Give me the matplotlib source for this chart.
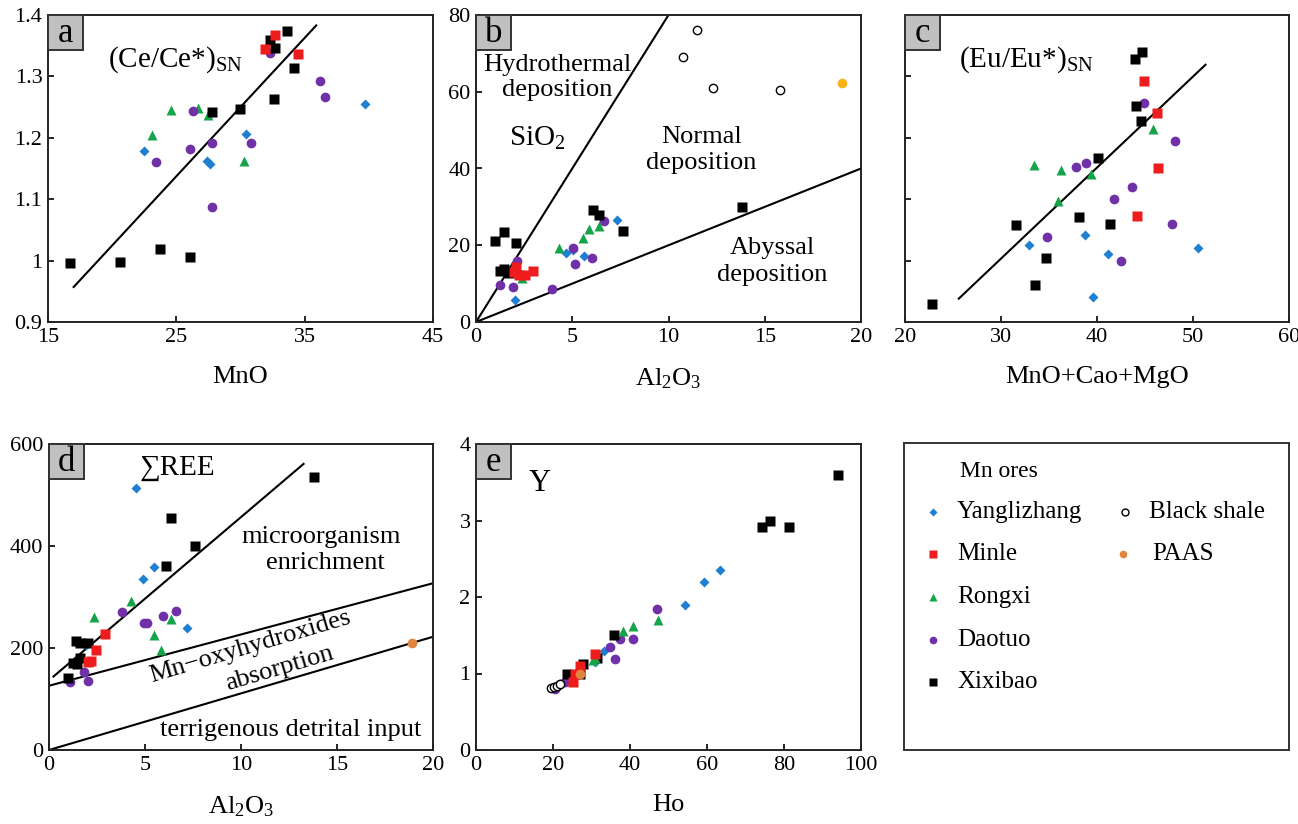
import matplotlib
matplotlib.use("Agg")
import matplotlib.pyplot as plt
from matplotlib.patches import Rectangle

plt.rcParams['font.family'] = ['Liberation Serif', 'DejaVu Serif']
plt.rcParams['mathtext.fontset'] = 'custom'
plt.rcParams['mathtext.rm'] = 'Liberation Serif'
plt.rcParams['mathtext.it'] = 'Liberation Serif'

# ---------------- data ----------------
# panel a: MnO vs (Ce/Ce*)SN
a_xix_x = [16.7, 20.6, 23.75, 26.1, 27.75, 30.0, 32.6, 32.3, 32.7, 33.6, 34.2]
a_xix_y = [0.996, 0.998, 1.019, 1.006, 1.242, 1.247, 1.264, 1.359, 1.346, 1.374, 1.314]
a_min_x = [31.9, 32.7, 34.5]
a_min_y = [1.344, 1.367, 1.336]
a_dao_x = [23.4, 26.3, 26.1, 27.8, 27.8, 30.8, 32.3, 36.2, 36.6]
a_dao_y = [1.160, 1.243, 1.182, 1.191, 1.087, 1.191, 1.338, 1.292, 1.266]
a_ron_x = [23.1, 24.6, 26.7, 27.5, 30.3]
a_ron_y = [1.204, 1.245, 1.249, 1.237, 1.162]
a_yan_x = [22.5, 27.4, 27.6, 30.4, 39.7]
a_yan_y = [1.179, 1.162, 1.157, 1.207, 1.255]
a_line_x = [17.0, 35.9]
a_line_y = [0.957, 1.383]

# panel b: Al2O3 vs SiO2
b_sha_x = [10.75, 11.5, 12.3, 15.8]
b_sha_y = [69.0, 76.2, 61.0, 60.5]
b_paas_x = [19.0]
b_paas_y = [62.2]
b_xix_x = [1.0, 1.47, 2.1, 1.27, 1.47, 1.72, 6.07, 6.4, 7.63, 13.8]
b_xix_y = [21.1, 23.4, 20.7, 13.3, 13.9, 12.7, 29.2, 28.0, 23.6, 30.0]
b_min_x = [2.08, 2.25, 2.56, 2.98, 1.95]
b_min_y = [14.3, 12.2, 12.2, 13.3, 13.0]
b_ron_x = [2.4, 4.3, 5.55, 5.85, 6.4]
b_ron_y = [11.4, 19.3, 21.9, 24.3, 25.0]
b_dao_x = [1.25, 1.9, 2.15, 3.95, 5.05, 5.15, 6.0, 6.65]
b_dao_y = [9.6, 9.0, 15.8, 8.6, 19.4, 15.0, 16.8, 26.3]
b_yan_x = [2.0, 4.65, 5.05, 5.6, 7.3]
b_yan_y = [5.8, 18.1, 18.7, 17.2, 26.5]
b_line1_x = [0, 10.0]
b_line1_y = [0, 80.0]
b_line2_x = [0, 20.0]
b_line2_y = [0, 40.0]

# panel c: MnO+CaO+MgO vs (Eu/Eu*)SN
c_xix_x = [22.85, 33.5, 34.7, 31.6, 38.1, 41.35, 40.1, 44.1, 44.6, 44.0, 44.7]
c_xix_y = [0.30, 0.60, 1.04, 1.58, 1.71, 1.60, 2.67, 3.52, 3.28, 4.28, 4.39]
c_min_x = [44.9, 46.3, 46.35, 44.2]
c_min_y = [3.92, 3.41, 2.51, 1.72]
c_ron_x = [33.4, 36.3, 39.4, 35.9, 45.8]
c_ron_y = [2.56, 2.47, 2.41, 1.97, 3.15]
c_dao_x = [37.8, 38.85, 44.85, 48.1, 43.6, 41.8, 34.75, 42.5, 47.85]
c_dao_y = [2.52, 2.59, 3.56, 2.95, 2.20, 2.01, 1.38, 1.00, 1.59]
c_yan_x = [32.9, 38.7, 41.1, 39.6, 50.5]
c_yan_y = [1.25, 1.42, 1.10, 0.41, 1.20]
c_line_x = [25.6, 51.3]
c_line_y = [0.38, 4.19]

# panel d: Al2O3 vs sum REE
d_xix_x = [13.8, 6.36, 7.63, 6.08, 1.41, 1.62, 2.05, 1.23, 1.44, 1.62, 1.01]
d_xix_y = [535, 454, 400, 360, 213, 210, 209, 170, 168, 180, 142]
d_min_x = [2.9, 2.45, 2.05, 2.17]
d_min_y = [227, 197, 173, 175]
d_ron_x = [2.35, 4.26, 5.49, 5.82, 6.34]
d_ron_y = [261, 292, 225, 197, 257]
d_dao_x = [3.79, 4.95, 5.09, 5.94, 6.6, 1.82, 2.05, 1.11]
d_dao_y = [271, 250, 250, 263, 273, 152, 136, 133]
d_yan_x = [4.54, 4.92, 5.46, 7.18, 1.93]
d_yan_y = [514, 335, 359, 239, 205]
d_paas_x = [18.9]
d_paas_y = [210]
d_line1_x = [0.23, 13.26]
d_line1_y = [144, 561]
d_line2_x = [0, 20]
d_line2_y = [126, 327]
d_line3_x = [0, 20]
d_line3_y = [0, 222]

# panel e: Ho vs Y
e_xix_x = [94.0, 74.4, 76.3, 81.2, 35.9, 27.9, 31.5, 23.6, 27.0]
e_xix_y = [3.60, 2.91, 3.00, 2.91, 1.50, 1.13, 1.20, 0.99, 1.00]
e_min_x = [30.85, 27.0, 25.7, 25.1]
e_min_y = [1.255, 1.10, 1.00, 0.89]
e_ron_x = [31.0, 30.5, 38.3, 40.7, 47.3]
e_ron_y = [1.20, 1.18, 1.55, 1.62, 1.70]
e_dao_x = [47.05, 37.5, 40.8, 34.7, 36.2, 23.1, 21.8, 20.4]
e_dao_y = [1.84, 1.45, 1.45, 1.35, 1.185, 0.89, 0.86, 0.80]
e_yan_x = [31.0, 33.3, 54.2, 59.1, 63.3]
e_yan_y = [1.15, 1.30, 1.89, 2.20, 2.35]
e_sha_x = [19.4, 20.3, 21.1, 21.8]
e_sha_y = [0.806, 0.819, 0.841, 0.863]
e_paas_x = [26.9]
e_paas_y = [1.00]

legend_labels = ['Yanglizhang', 'Minle', 'Rongxi', 'Daotuo', 'Xixibao']
legend_labels2 = ['Black shale', 'PAAS']

# ---------------- styles ----------------
C_YAN = '#1f7fd0'
C_MIN = '#ee1c1c'
C_RON = '#16a44a'
C_DAO = '#7030a8'
C_XIX = '#000000'
C_PAAS = '#e0843f'
C_PAAS_B = '#f8b21a'

ST = {
    'yan': dict(marker='D', color=C_YAN, ms=5.2, ls='none', mec='none'),
    'min': dict(marker='s', color=C_MIN, ms=7, ls='none', mec='none'),
    'ron': dict(marker='^', color=C_RON, ms=7.5, ls='none', mec='none'),
    'dao': dict(marker='o', color=C_DAO, ms=7, ls='none', mec='none'),
    'xix': dict(marker='s', color=C_XIX, ms=7, ls='none', mec='none'),
    'sha': dict(marker='o', mfc='white', mec='black', ms=6, mew=1.0, ls='none'),
}

TICK_FS = 16
LAB_FS = 19
TXT_FS = 19

W, H = 1298, 824
fig = plt.figure(figsize=(W / 100, H / 100), dpi=100)


def add_ax(l, t, r, b):
    return fig.add_axes([l / W, 1 - b / H, (r - l) / W, (b - t) / H])


def style(ax, letter):
    for s in ax.spines.values():
        s.set_linewidth(1.4)
        s.set_color('#222222')
    ax.tick_params(direction='in', length=4, width=1.2, labelsize=TICK_FS,
                   top=False, right=False, pad=4)
    ax.add_patch(Rectangle((0, 1), 0.09, -0.113, transform=ax.transAxes,
                           facecolor='#c0c0c0', edgecolor='#333333', lw=1.4,
                           zorder=5, clip_on=False))
    ax.text(0.045, 1 - 0.06, letter, transform=ax.transAxes, ha='center',
            va='center', fontsize=25, zorder=6)


# panel a
ax = add_ax(48, 15, 433, 322)
ax.plot(a_line_x, a_line_y, color='black', lw=1.5, zorder=2)
ax.plot(a_yan_x, a_yan_y, **ST['yan'], zorder=3)
ax.plot(a_ron_x, a_ron_y, **ST['ron'], zorder=3)
ax.plot(a_dao_x, a_dao_y, **ST['dao'], zorder=3)
ax.plot(a_xix_x, a_xix_y, **ST['xix'], zorder=3)
ax.plot(a_min_x, a_min_y, **ST['min'], zorder=4)
ax.set_xlim(15, 45)
ax.set_ylim(0.9, 1.4)
ax.set_xticks([15, 25, 35, 45])
ax.set_yticks([0.9, 1.0, 1.1, 1.2, 1.3, 1.4])
ax.set_yticklabels(['0.9', '1', '1.1', '1.2', '1.3', '1.4'])
ax.set_xlabel('MnO', fontsize=LAB_FS, labelpad=14)
ax.text(0.155, 0.855, r'(Ce/Ce*)$_{\mathrm{SN}}$', transform=ax.transAxes,
        fontsize=21, va='center', ha='left')
style(ax, 'a')

# panel b
ax = add_ax(476, 15, 861, 322)
ax.plot(b_line1_x, b_line1_y, color='black', lw=1.5, zorder=2)
ax.plot(b_line2_x, b_line2_y, color='black', lw=1.5, zorder=2)
ax.plot(b_sha_x, b_sha_y, **ST['sha'], zorder=3)
ax.plot(b_paas_x, b_paas_y, marker='o', color=C_PAAS_B, ms=7, ls='none', mec='none')
ax.plot(b_yan_x, b_yan_y, **ST['yan'], zorder=3)
ax.plot(b_dao_x, b_dao_y, **ST['dao'], zorder=3)
ax.plot(b_ron_x, b_ron_y, **ST['ron'], zorder=4)
ax.plot(b_xix_x, b_xix_y, **ST['xix'], zorder=3)
ax.plot(b_min_x, b_min_y, **ST['min'], zorder=4)
ax.set_xlim(0, 20)
ax.set_ylim(0, 80)
ax.set_xticks([0, 5, 10, 15, 20])
ax.set_yticks([0, 20, 40, 60, 80])
ax.set_xlabel(r'Al$_{2}$O$_{3}$', fontsize=LAB_FS, labelpad=14)
ax.text(4.2, 67.0, 'Hydrothermal', fontsize=TXT_FS, ha='center', va='center')
ax.text(4.2, 60.4, 'deposition', fontsize=TXT_FS, ha='center', va='center')
ax.text(3.2, 47.9, r'SiO$_{2}$', fontsize=21, ha='center', va='center')
ax.text(11.7, 48.2, 'Normal', fontsize=TXT_FS, ha='center', va='center')
ax.text(11.7, 41.4, 'deposition', fontsize=TXT_FS, ha='center', va='center')
ax.text(15.4, 19.3, 'Abyssal', fontsize=TXT_FS, ha='center', va='center')
ax.text(15.4, 12.2, 'deposition', fontsize=TXT_FS, ha='center', va='center')
style(ax, 'b')

# panel c
ax = add_ax(905, 15, 1289, 322)
ax.plot(c_line_x, c_line_y, color='black', lw=1.5, zorder=2)
ax.plot(c_yan_x, c_yan_y, **ST['yan'], zorder=3)
ax.plot(c_ron_x, c_ron_y, **ST['ron'], zorder=3)
ax.plot(c_dao_x, c_dao_y, **ST['dao'], zorder=3)
ax.plot(c_xix_x, c_xix_y, **ST['xix'], zorder=3)
ax.plot(c_min_x, c_min_y, **ST['min'], zorder=4)
ax.set_xlim(20, 60)
ax.set_ylim(0, 5)
ax.set_xticks([20, 30, 40, 50, 60])
ax.set_yticks([1, 2, 3, 4])
ax.set_yticklabels([])
ax.set_xlabel('MnO+Cao+MgO', fontsize=LAB_FS, labelpad=14)
ax.text(0.14, 0.855, r'(Eu/Eu*)$_{\mathrm{SN}}$', transform=ax.transAxes,
        fontsize=21, va='center', ha='left')
style(ax, 'c')

# panel d
ax = add_ax(49, 444, 433, 750)
ax.plot(d_line1_x, d_line1_y, color='black', lw=1.5, zorder=2)
ax.plot(d_line2_x, d_line2_y, color='black', lw=1.5, zorder=2)
ax.plot(d_line3_x, d_line3_y, color='black', lw=1.5, zorder=2)
ax.plot(d_yan_x, d_yan_y, **ST['yan'], zorder=3)
ax.plot(d_ron_x, d_ron_y, **ST['ron'], zorder=3)
ax.plot(d_dao_x, d_dao_y, **ST['dao'], zorder=3)
ax.plot(d_xix_x, d_xix_y, **ST['xix'], zorder=3)
ax.plot(d_min_x, d_min_y, **ST['min'], zorder=4)
ax.plot(d_paas_x, d_paas_y, marker='o', color=C_PAAS, ms=7, ls='none', mec='none')
ax.set_xlim(0, 20)
ax.set_ylim(0, 600)
ax.set_xticks([0, 5, 10, 15, 20])
ax.set_yticks([0, 200, 400, 600])
ax.set_xlabel(r'Al$_{2}$O$_{3}$', fontsize=LAB_FS, labelpad=14)
ax.text(6.7, 553, '\u2211REE', fontsize=21, ha='center', va='center')
ax.text(14.2, 418, 'microorganism', fontsize=TXT_FS, ha='center', va='center')
ax.text(14.4, 367, 'enrichment', fontsize=TXT_FS, ha='center', va='center')
ax.text(10.5, 203, 'Mn\u2212oxyhydroxides', fontsize=TXT_FS, ha='center',
        va='center', rotation=16.5, rotation_mode='anchor')
ax.text(12.0, 160, 'absorption', fontsize=TXT_FS, ha='center', va='center',
        rotation=16.5, rotation_mode='anchor')
ax.text(12.6, 40, 'terrigenous detrital input', fontsize=TXT_FS, ha='center',
        va='center')
style(ax, 'd')

# panel e
ax = add_ax(476, 444, 861, 750)
ax.plot(e_yan_x, e_yan_y, **ST['yan'], zorder=3)
ax.plot(e_ron_x, e_ron_y, **ST['ron'], zorder=4)
ax.plot(e_dao_x, e_dao_y, **ST['dao'], zorder=3)
ax.plot(e_xix_x, e_xix_y, **ST['xix'], zorder=3)
ax.plot(e_min_x, e_min_y, **ST['min'], zorder=4)
ax.plot(e_sha_x, e_sha_y, **ST['sha'], zorder=5)
ax.plot(e_paas_x, e_paas_y, marker='o', color=C_PAAS, ms=7, ls='none',
        mec='none', zorder=5)
ax.set_xlim(0, 100)
ax.set_ylim(0, 4)
ax.set_xticks([0, 20, 40, 60, 80, 100])
ax.set_yticks([0, 1, 2, 3, 4])
ax.set_xlabel('Ho', fontsize=LAB_FS, labelpad=14)
ax.text(16.6, 3.49, 'Y', fontsize=22, ha='center', va='center')
style(ax, 'e')

# legend panel
lax = add_ax(904, 443, 1289, 750)
lax.set_xlim(904, 1289)
lax.set_ylim(750, 443)
lax.set_xticks([])
lax.set_yticks([])
for s in lax.spines.values():
    s.set_linewidth(1.4)
    s.set_color('#333333')
lax.text(960, 472, 'Mn ores', fontsize=17, ha='left', va='center')
left_keys = ['yan', 'min', 'ron', 'dao', 'xix']
left_ys = [512, 554, 597, 640, 682]
small = {'yan': 4, 'min': 5.5, 'ron': 5.5, 'dao': 5.5, 'xix': 5.5}
for key, lab, yy in zip(left_keys, legend_labels, left_ys):
    st = dict(ST[key])
    st['ms'] = small[key]
    lax.plot([933], [yy], **st)
    lax.text(957, yy, lab, fontsize=18, ha='left', va='center')
lax.plot([1125], [512], marker='o', mfc='white', mec='black', ms=5, mew=1.0, ls='none')
lax.text(1149, 512, legend_labels2[0], fontsize=18, ha='left', va='center')
lax.plot([1123], [554], marker='o', color=C_PAAS, ms=5.5, ls='none', mec='none')
lax.text(1152, 554, legend_labels2[1], fontsize=18, ha='left', va='center')

fig.savefig('out.png', dpi=100)
